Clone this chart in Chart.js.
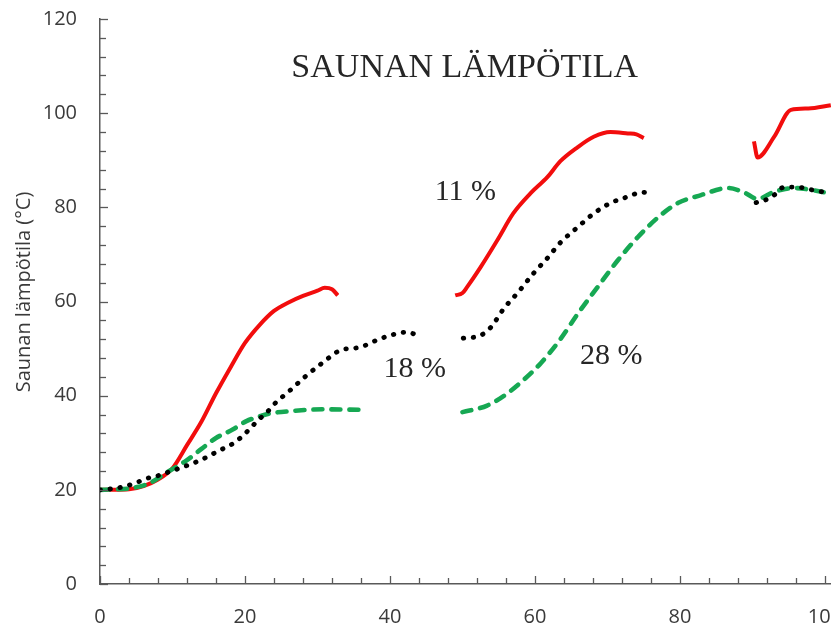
<!DOCTYPE html>
<html><head><meta charset="utf-8">
<script src="https://cdn.jsdelivr.net/npm/chart.js@4/dist/chart.umd.min.js"></script>
<style>
html,body{margin:0;padding:0;background:#fff;overflow:hidden;}
#wrap{width:831px;height:626px;overflow:hidden;position:relative;background:#fff;}
canvas{display:block;}
</style></head><body>
<div id="wrap"><canvas id="c" width="1000" height="626"></canvas></div>
<script>
// ---- data (time, temperature °C); null = gap between measurement runs ----
const redX = [0, 2, 4, 6, 8, 10, 12, 14, 16, 18, 20, 22, 24, 26, 28, 30, 31, 32, 32.8,
  40,
  49, 50, 50.6, 52.5, 54.8, 57, 59.4, 61.7, 63.5, 65.9, 68.1, 70.4, 72.8, 74, 75,
  82,
  90.2, 90.7, 93, 95.3, 97.7, 100.8];
const redY = [20, 20, 20.1, 20.8, 22.2, 24.6, 29.5, 34.5, 40.5, 46, 51.2, 55, 58, 59.8, 61.2, 62.3, 62.9, 62.6, 61.3,
  null,
  61.3, 61.8, 63, 67.3, 73, 78.7, 83, 86.4, 89.8, 92.8, 95, 96, 95.7, 95.5, 94.7,
  null,
  94, 90.6, 95, 100.7, 101, 101.7];

const blackX = [0, 1.5, 3.1, 4.8, 6.4, 8, 9.5, 11, 12.4, 14, 15.4, 16.8, 18.1, 19.5, 20.7, 21.8, 23, 24.1,
  26.2, 28.5, 30.8, 33.1, 35.9, 38.2, 40, 42.5, 43.9,
  47,
  50.1, 52.5, 53.9, 55.7, 57.7, 59.8, 61.7, 63.5, 65.9, 68.1, 70.4, 72.7, 74.8, 75.7,
  82,
  90.5, 91.7, 92.9, 94.2, 95.6, 96.7, 98.5, 100.8];
const blackY = [20, 20.2, 20.6, 21.4, 22.4, 23, 23.8, 24.6, 25.4, 26.4, 27.5, 28.6, 29.6, 31.2, 33, 34.8, 36.4, 38.3,
  41.1, 44.3, 47.1, 49.6, 50.3, 51.8, 52.8, 53.5, 52.6,
  null,
  52.2, 52.8, 54.5, 58.5, 62, 66, 69.2, 72.5, 75.8, 78.7, 80.9, 82.2, 83.2, 83,
  null,
  81, 81.5, 82.5, 84.2, 84.3, 84.2, 83.6, 83];

const greenX = [0, 2, 4.1, 6.8, 9.2, 11.9, 14, 16, 18.3, 20.2, 21.6, 23.4, 26.2, 30.8, 36.3,
  43,
  50, 53.4, 56.2, 58.4, 60.8, 63.5, 65.9, 68.6, 71.4, 74.2, 77, 79.7, 82.9, 86.6, 88.8, 90.7, 93, 95.7, 98.5, 100.8];
const greenY = [20, 20.1, 20.3, 21.4, 23.7, 26.2, 28.7, 31, 32.8, 34.6, 35.4, 36.2, 36.7, 37.1, 37,
  null,
  36.5, 37.9, 40.5, 43.3, 46.9, 52, 57.4, 63, 68.7, 73.7, 77.9, 80.9, 82.6, 84.1, 83.2, 81.8, 83.3, 84.1, 83.6, 82.9];

const seriesNames = ['18 %', '28 %', '11 %'];
const xTickValues = [0, 20, 40, 60, 80, 100, 120];
const yTickValues = [0, 20, 40, 60, 80, 100, 120];
const chartTitle = 'SAUNAN LÄMPÖTILA';
const yTitle = 'Saunan lämpötila (°C)';
const noteTexts = ['11 %', '18 %', '28 %'];
const noteX = [50.4, 43.4, 70.5];
const noteY = [83.2, 45.7, 48.4];

// ---- build ----
const pts = (xs, ys) => xs.map((x, i) => ({x: x, y: ys[i]}));
const AXIS = '#595959';
const LABEL = '#3a3a3a';

const decor = {
  id: 'decor',
  afterDatasetsDraw(chart) {
    const ctx = chart.ctx, xs = chart.scales.x, ys = chart.scales.y, a = chart.chartArea;
    ctx.save();
    ctx.strokeStyle = AXIS;
    ctx.lineWidth = 1.3;
    // inward tick marks, minor every 4 units
    for (let v = 0; v <= 120; v += 4) {
      const len = v % 20 === 0 ? 8 : 6;
      const px = Math.round(xs.getPixelForValue(v)) + 0.5;
      ctx.beginPath(); ctx.moveTo(px, a.bottom); ctx.lineTo(px, a.bottom - len); ctx.stroke();
      const py = Math.round(ys.getPixelForValue(v)) + 0.5;
      ctx.beginPath(); ctx.moveTo(a.left, py); ctx.lineTo(a.left + len, py); ctx.stroke();
    }
    // title
    ctx.fillStyle = '#262626';
    ctx.textAlign = 'center';
    ctx.textBaseline = 'middle';
    ctx.font = '34px "Liberation Serif"';
    ctx.fillText(chartTitle, xs.getPixelForValue(50.3), ys.getPixelForValue(109.6));
    // notes
    ctx.font = '30px "Liberation Serif"';
    noteTexts.forEach((t, i) => ctx.fillText(t, xs.getPixelForValue(noteX[i]), ys.getPixelForValue(noteY[i])));
    // y title
    ctx.fillStyle = LABEL;
    ctx.font = '20px "Open Sans"';
    ctx.translate(24, 292);
    ctx.rotate(-Math.PI / 2);
    ctx.fillText(yTitle, 0, 0);
    ctx.restore();
  }
};

new Chart(document.getElementById('c'), {
  type: 'line',
  data: {
    datasets: [
      {label: seriesNames[0], data: pts(blackX, blackY), borderColor: '#000000', borderWidth: 4.8,
       borderDash: [0.5, 9.5], borderCapStyle: 'round', pointRadius: 0, spanGaps: false, cubicInterpolationMode: 'monotone'},
      {label: seriesNames[1], data: pts(greenX, greenY), borderColor: '#16a853', borderWidth: 4.6,
       borderDash: [9, 9], borderCapStyle: 'round', pointRadius: 0, spanGaps: false, cubicInterpolationMode: 'monotone'},
      {label: seriesNames[2], data: pts(redX, redY), borderColor: '#f20d0d', borderWidth: 4,
       pointRadius: 0, spanGaps: false, cubicInterpolationMode: 'monotone'}
    ]
  },
  options: {
    responsive: false,
    animation: false,
    events: [],
    layout: {padding: {top: 19, right: 30, left: 0, bottom: 0}},
    plugins: {legend: {display: false}, tooltip: {enabled: false}, title: {display: false}},
    scales: {
      x: {
        type: 'linear', min: 0, max: 120,
        afterBuildTicks: s => { s.ticks = xTickValues.map(v => ({value: v})); },
        afterFit: s => { s.height = 42; s.paddingLeft = 0; s.paddingRight = 0; },
        grid: {display: false, drawTicks: false},
        border: {display: true, color: AXIS, width: 1.5},
        ticks: {color: LABEL, font: {family: 'Open Sans', size: 20}, padding: 21, maxRotation: 0}
      },
      y: {
        type: 'linear', min: 0, max: 120,
        afterBuildTicks: s => { s.ticks = yTickValues.map(v => ({value: v})); },
        afterFit: s => { s.width = 100; s.paddingTop = 0; s.paddingBottom = 0; },
        grid: {display: false, drawTicks: false},
        border: {display: true, color: AXIS, width: 1.5},
        ticks: {color: LABEL, font: {family: 'Open Sans', size: 20}, padding: 23}
      }
    }
  },
  plugins: [decor]
});
</script>
</body></html>
